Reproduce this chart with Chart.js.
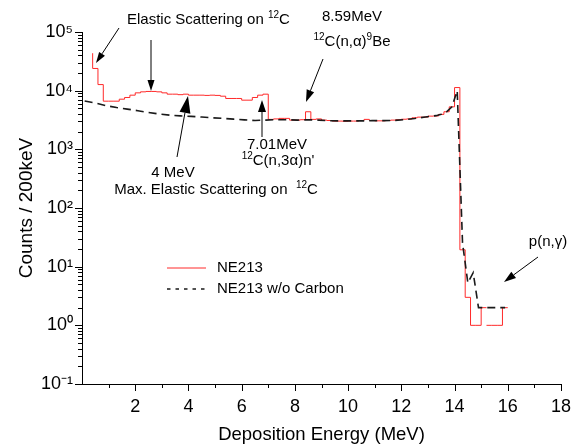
<!DOCTYPE html>
<html><head><meta charset="utf-8">
<script src="https://cdn.jsdelivr.net/npm/chart.js@4.4.1/dist/chart.umd.min.js"></script>
<style>html,body{margin:0;padding:0;background:#fff;overflow:hidden}#wrap{width:571px;height:446px;position:relative}</style>
</head><body><div id="wrap"><canvas id="c" width="571" height="446"></canvas></div>
<script>
// ---- data ----
const seriesNames = ['NE213', 'NE213 w/o Carbon'];
// NE213: bin edges (MeV); each count is the bin ending at that edge (first = spike top)
const ne213Energy = [0.4,0.6,0.8,1.0,1.2,1.4,1.6,1.8,2.0,2.2,2.4,2.6,2.8,3.0,3.2,3.4,3.6,3.8,4.0,4.2,4.4,4.6,4.8,5.0,5.2,5.4,5.6,5.8,6.0,6.2,6.4,6.6,6.8,7.0,7.2,7.4,7.6,7.8,8.0,8.2,8.4,8.6,8.8,9.0,9.2,9.4,9.6,9.8,10.0,10.2,10.4,10.6,10.8,11.0,11.2,11.4,11.6,11.8,12.0,12.2,12.4,12.6,12.8,13.0,13.2,13.4,13.6,13.8,14.0,14.2,14.4,14.6,14.8,15.0,15.2,15.2,15.2,15.4,15.6,15.8,16.0];
const ne213Counts = [43500,23900,12700,6620,6620,6620,7160,7650,8380,9180,9550,9700,9700,9550,9180,8720,8720,8550,8720,8380,8380,8380,8300,8380,8300,8050,7360,7360,7360,6890,6890,7650,8380,8720,3240,3300,3370,3370,3150,3150,3200,4370,3240,3300,3150,3100,3030,3030,3000,3030,3030,3100,3240,3100,3060,3060,3100,3150,3200,3260,3300,3450,3540,3540,3680,3700,3940,4370,5300,11300,19.4,3.0,1,1,2,null,1,1,1,1,2];
// NE213 w/o Carbon: bin centres (MeV) and counts
const noCarbonEnergy = [0.1,0.5,0.9,1.3,1.7,2.1,2.5,2.9,3.3,3.7,4.1,4.5,4.9,5.3,5.7,6.1,6.5,6.9,7.3,7.7,8.1,8.5,8.9,9.3,9.7,10.1,10.5,10.9,11.3,11.7,12.1,12.5,12.9,13.3,13.5,13.7,13.9,14.1,14.3,14.5,14.7,14.9,15.1,15.9];
const noCarbonCounts = [6650,6150,5550,5150,4850,4550,4250,4000,3820,3720,3650,3550,3450,3370,3270,3180,3100,3150,3200,3200,3150,3200,3150,3080,3050,3050,3050,3080,3080,3100,3200,3350,3550,3750,3950,4350,5300,10000,25,5.3,7.9,2.0,2.0,2.0];
const xTickValues = [2,4,6,8,10,12,14,16,18];
const xMinorValues = [1,3,5,7,9,11,13,15,17];
const yTickValues = [1e-1,1e0,1e1,1e2,1e3,1e4,1e5];
const yTickLabels = ['10\u207B\u00B9','10\u2070','10\u00B9','10\u00B2','10\u00B3','10\u2074','10\u2075'];
const xTitle = 'Deposition Energy (MeV)';
const yTitle = 'Counts / 200keV';

const FONT = "'Liberation Sans', Arial, Helvetica, sans-serif";
const RED = '#ff2a2a';
const BLACK = '#1a1a1a';
const DASH = [8,5];

function toPts(xs, ys){ return xs.map((x,i)=>({x:x, y:ys[i]})); }

function richText(ctx, parts, x, y, align){
  const main = '15px ' + FONT, sup = '10px ' + FONT;
  let w = 0;
  parts.forEach(p=>{ ctx.font = p.s ? sup : main; w += ctx.measureText(p.t).width; });
  let cx = align === 'left' ? x : x - w/2;
  ctx.textBaseline = 'middle'; ctx.textAlign = 'left';
  parts.forEach(p=>{
    ctx.font = p.s ? sup : main;
    ctx.fillText(p.t, cx, p.s ? y - 5 : y);
    cx += ctx.measureText(p.t).width;
  });
}
function arrow(ctx, x1, y1, x2, y2, hl, hw){
  const a = Math.atan2(y2-y1, x2-x1);
  const bx = x2 - hl*Math.cos(a), by = y2 - hl*Math.sin(a);
  ctx.beginPath(); ctx.moveTo(x1,y1); ctx.lineTo(bx,by); ctx.stroke();
  ctx.beginPath();
  ctx.moveTo(x2,y2);
  ctx.lineTo(bx + hw/2*Math.sin(a), by - hw/2*Math.cos(a));
  ctx.lineTo(bx - hw/2*Math.sin(a), by + hw/2*Math.cos(a));
  ctx.closePath(); ctx.fill();
}

const decoPlugin = {
  id: 'deco',
  afterDraw(chart){
    const ctx = chart.ctx, xs = chart.scales.x, ys = chart.scales.y, ca = chart.chartArea;
    ctx.save();
    // tick marks
    ctx.strokeStyle = '#000'; ctx.lineWidth = 1;
    ctx.beginPath();
    xTickValues.forEach(v=>{ const p = Math.round(xs.getPixelForValue(v))+0.5; ctx.moveTo(p, ca.bottom); ctx.lineTo(p, ca.bottom+7); });
    xMinorValues.forEach(v=>{ const p = Math.round(xs.getPixelForValue(v))+0.5; ctx.moveTo(p, ca.bottom); ctx.lineTo(p, ca.bottom+4); });
    yTickValues.forEach(v=>{ const p = Math.round(ys.getPixelForValue(v))+0.5; ctx.moveTo(ca.left, p); ctx.lineTo(ca.left-7, p); });
    for (let e=-1; e<5; e++) for (let m=2; m<10; m++){
      const p = Math.round(ys.getPixelForValue(m*Math.pow(10,e)))+0.5;
      ctx.moveTo(ca.left, p); ctx.lineTo(ca.left-4, p);
    }
    ctx.stroke();
    // legend
    const ds = chart.data.datasets;
    [[0,268],[1,289]].forEach(([i,yy])=>{
      const d = ds.find(q=>q.label===seriesNames[i]);
      ctx.save();
      ctx.strokeStyle = d.borderColor; ctx.lineWidth = d.borderWidth;
      ctx.setLineDash(i===1 ? [3.5,5] : []);
      ctx.beginPath(); ctx.moveTo(167, yy); ctx.lineTo(206, yy); ctx.stroke();
      ctx.restore();
      ctx.fillStyle = '#000';
      richText(ctx, [{t:seriesNames[i]}], 217, yy, 'left');
    });
    // annotations
    ctx.fillStyle = '#000'; ctx.strokeStyle = '#000'; ctx.lineWidth = 1;
    richText(ctx, [{t:'Elastic Scattering on '},{t:'12',s:1},{t:'C'}], 127, 20, 'left');
    arrow(ctx, 119, 28, 96, 63, 11, 7);
    arrow(ctx, 151, 40, 151, 91, 11, 7);
    richText(ctx, [{t:'8.59MeV'}], 352, 17, 'center');
    richText(ctx, [{t:'12',s:1},{t:'C(n,\u03B1)'},{t:'9',s:1},{t:'Be'}], 352, 42, 'center');
    arrow(ctx, 323, 59, 306, 102, 12, 8);
    richText(ctx, [{t:'7.01MeV'}], 277, 145, 'center');
    richText(ctx, [{t:'12',s:1},{t:'C(n,3\u03B1)n\''}], 278, 161, 'center');
    arrow(ctx, 262, 137, 262, 100, 12, 8);
    richText(ctx, [{t:'4 MeV'}], 173, 173, 'center');
    richText(ctx, [{t:'Max. Elastic Scattering on  '},{t:'12',s:1},{t:'C'}], 216, 190, 'center');
    arrow(ctx, 177, 157, 188, 96, 17, 11);
    richText(ctx, [{t:'p(n,\u03B3)'}], 548, 242, 'center');
    arrow(ctx, 538, 257, 504, 282, 12, 8);
    ctx.restore();
  }
};

new Chart(document.getElementById('c'), {
  type: 'line',
  data: {
    datasets: [
      { label: seriesNames[1], data: toPts(noCarbonEnergy, noCarbonCounts), borderColor: BLACK, borderWidth: 1.6, borderDash: DASH, pointRadius: 0, fill: false, tension: 0, order: 0 },
      { label: seriesNames[0], data: toPts(ne213Energy, ne213Counts), borderColor: RED, borderWidth: 1, pointRadius: 0, fill: false, stepped: 'after', spanGaps: false, order: 1 }
    ]
  },
  options: {
    responsive: false, animation: false, devicePixelRatio: 1,
    layout: { padding: { left: 0, right: 10, top: 32, bottom: 0 } },
    plugins: { legend: { display: false }, tooltip: { enabled: false } },
    scales: {
      x: {
        type: 'linear', position: 'bottom', min: 0, max: 18,
        afterBuildTicks: s => { s.ticks = xTickValues.map(v=>({value:v})); },
        afterFit: s => { s.height = 62; s.paddingRight = 0; s.paddingLeft = 0; },
        grid: { display: false, drawTicks: false },
        border: { display: true, color: '#000', width: 1 },
        ticks: { color: '#000', font: { family: FONT, size: 18 }, padding: 12, maxRotation: 0, autoSkip: false, callback: v => String(v) },
        title: { display: true, text: xTitle, color: '#000', font: { family: FONT, size: 18.5 }, padding: { top: 0, bottom: 0 } }
      },
      y: {
        type: 'logarithmic', position: 'left', min: 1e-1, max: 1e5,
        afterBuildTicks: s => { s.ticks = yTickValues.map(v=>({value:v})); },
        afterFit: s => { s.width = 82; s.paddingTop = 0; s.paddingBottom = 0; },
        grid: { display: false, drawTicks: false },
        border: { display: true, color: '#000', width: 1 },
        ticks: { color: '#000', font: { family: FONT, size: 18 }, padding: 9, autoSkip: false, callback: v => { const i = yTickValues.findIndex(t=>Math.abs(Math.log10(t)-Math.log10(v))<1e-6); return i>=0 ? yTickLabels[i] : ''; } },
        title: { display: true, text: yTitle, color: '#000', font: { family: FONT, size: 19 }, padding: { top: 15, bottom: 0 } }
      }
    }
  },
  plugins: [decoPlugin]
});
</script></body></html>
